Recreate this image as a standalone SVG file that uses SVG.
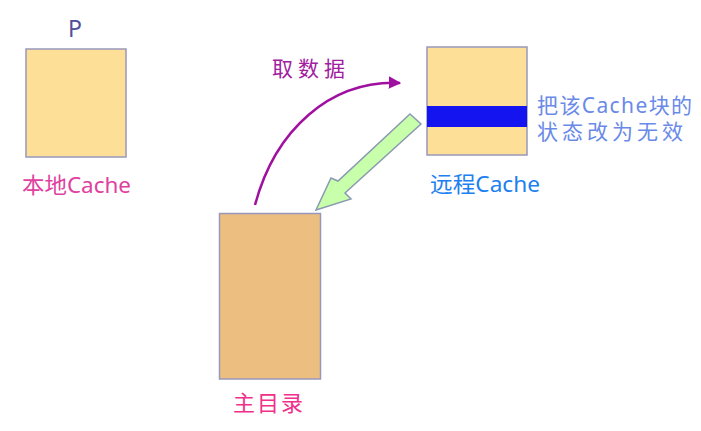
<svg xmlns="http://www.w3.org/2000/svg" width="701" height="431" viewBox="0 0 701 431">
<style>
text{font-family:"Noto Sans","Noto Sans CJK SC",sans-serif;font-size:22px}
.box{stroke:#9898bc;stroke-width:1.5}
</style>
<defs>
<marker id="ah" viewBox="0 0 10 10" refX="9" refY="5" markerWidth="5" markerHeight="5" orient="auto" markerUnits="strokeWidth">
<path d="M0,0 L10,5 L0,10 Z" fill="#a010a0"/>
</marker>
</defs>
<rect width="701" height="431" fill="#fff"/>
<g id="local">
<text x="75" y="36.5" text-anchor="middle" fill="#50509a" style="font-size:23px">P</text>
<rect class="box" x="26" y="49" width="100" height="108" fill="#fddf98"/>
<text x="22" y="193" fill="#e040a0" textLength="109" lengthAdjust="spacingAndGlyphs">本地Cache</text>
</g>
<g id="remote">
<rect class="box" x="427" y="47" width="100" height="108" fill="#fddf98"/>
<rect x="427" y="106" width="100" height="21" fill="#1414f0"/>
<text x="430" y="192" fill="#2080f0" textLength="110" lengthAdjust="spacingAndGlyphs">远程Cache</text>
<text x="537" y="113" fill="#6a8ae8" style="font-size:21px" textLength="155" lengthAdjust="spacing">把该Cache块的</text>
<text x="537" y="139" fill="#6a8ae8" style="font-size:21px" textLength="146" lengthAdjust="spacing">状态改为无效</text>
</g>
<g id="directory">
<rect class="box" x="219.5" y="213.5" width="101" height="165.5" fill="#ecbe80"/>
<text x="233" y="411" fill="#f0308a" textLength="70" lengthAdjust="spacing">主目录</text>
</g>
<g id="connectors">
<path d="M255,205 C275,130 330,80 400,83" fill="none" stroke="#a010a0" stroke-width="2.5" marker-end="url(#ah)"/>
<text x="272" y="76" fill="#a020a0" style="font-size:21px" textLength="73" lengthAdjust="spacing">取数据</text>
<polygon points="410,114 421,124 345,193 351,199 316,210 331,178 338,181" fill="#c8ffaa" stroke="#8a9ab0" stroke-width="1.5"/>
</g>
</svg>
